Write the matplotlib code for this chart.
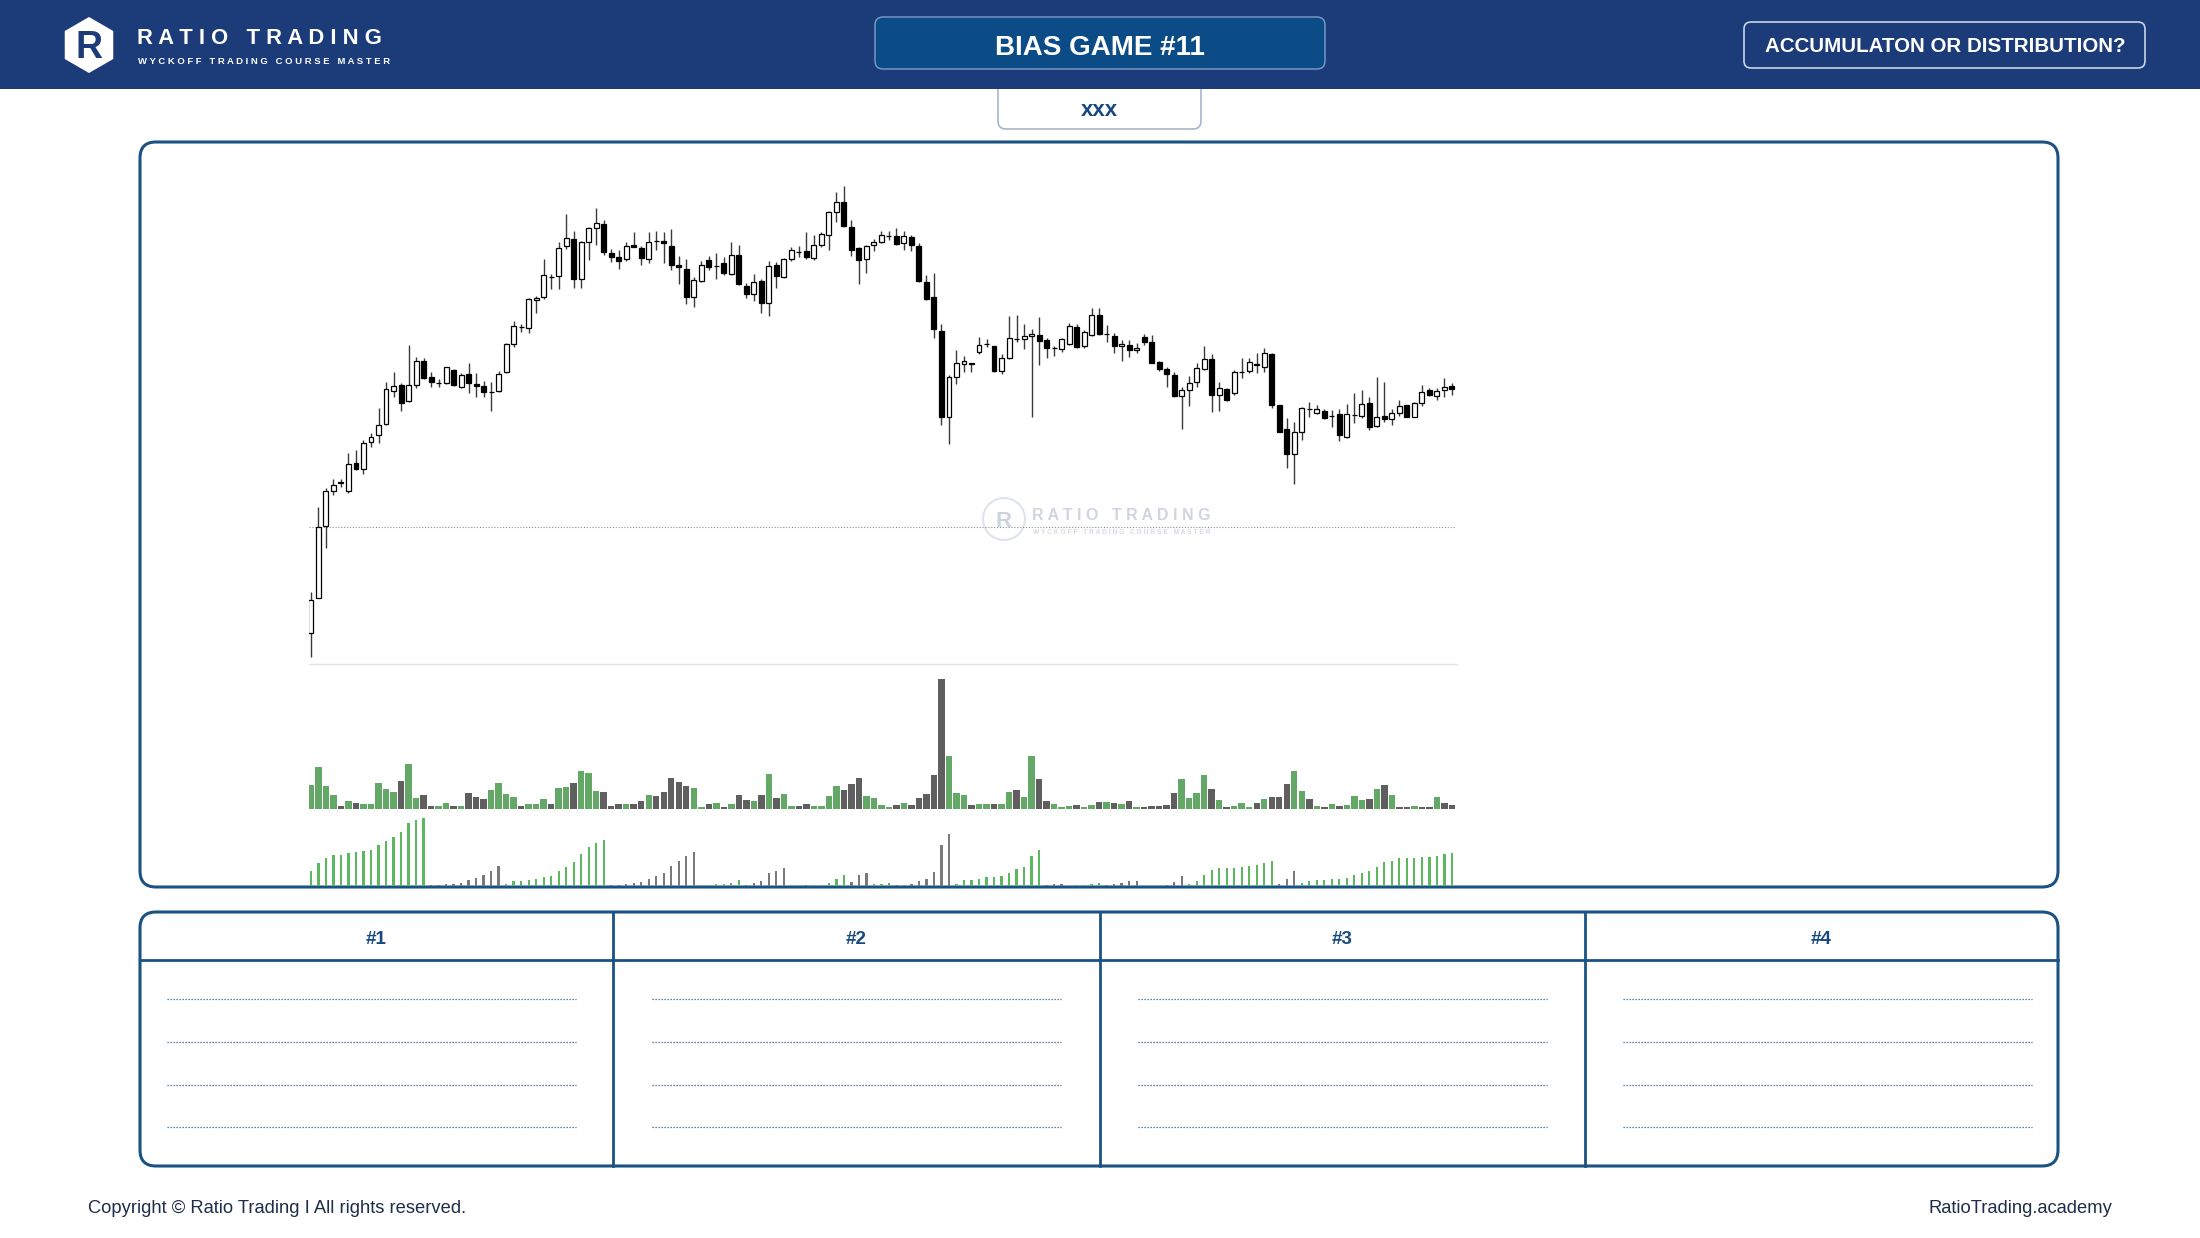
import matplotlib.pyplot as plt
from matplotlib.patches import FancyBboxPatch, RegularPolygon, Circle, Rectangle

plt.rcParams['font.family'] = ['Liberation Sans', 'DejaVu Sans']

# ---- price candles (arbitrary price units) ----
opens = [111.0, 121.5, 143.3, 153.8, 156.1, 153.8, 162.0, 160.3, 168.5, 170.5,
         173.8, 183.8, 185.4, 180.8, 185.5, 192.8, 187.8, 186.2, 186.0, 190.1,
         184.8, 188.8, 185.7, 185.3, 183.5, 183.8, 189.3, 197.8, 203.0, 202.5,
         211.0, 212.0, 218.0, 218.2, 227.2, 229.3, 217.2, 228.4, 232.5, 233.8,
         225.2, 223.8, 223.2, 227.5, 226.6, 223.2, 228.6, 228.6, 227.3, 221.4,
         220.4, 212.0, 216.8, 222.9, 221.1, 222.1, 218.9, 224.5, 215.2, 212.8,
         216.7, 210.0, 221.5, 217.8, 223.2, 225.5, 225.6, 223.5, 227.6, 230.5,
         237.5, 240.5, 233.0, 226.6, 223.2, 227.5, 228.3, 230.3, 230.3, 228.0,
         230.0, 227.2, 216.3, 212.0, 201.8, 176.0, 188.0, 191.8, 192.2, 195.3,
         197.8, 197.1, 189.8, 193.5, 199.3, 199.2, 200.3, 200.6, 199.1, 196.5,
         196.4, 197.8, 202.9, 197.3, 200.5, 206.6, 200.8, 200.2, 197.2, 197.6,
         196.0, 199.9, 198.5, 192.5, 190.3, 188.5, 182.2, 184.0, 186.3, 190.2,
         193.2, 182.5, 184.2, 183.2, 189.5, 189.6, 191.9, 191.0, 194.7, 179.4,
         172.3, 164.7, 171.5, 178.2, 177.0, 177.8, 176.2, 176.7, 170.0, 176.5,
         176.2, 180.0, 173.2, 176.2, 175.2, 177.1, 179.4, 176.0, 180.1, 184.0,
         182.3, 184.1, 185.1]
highs = [123.5, 148.8, 154.5, 157.2, 157.2, 165.0, 166.0, 169.0, 171.0, 178.7,
         186.5, 189.5, 186.0, 197.5, 194.0, 193.7, 189.3, 187.2, 191.0, 190.3,
         189.2, 192.0, 189.0, 186.8, 186.5, 189.8, 198.2, 204.8, 203.8, 211.7,
         212.2, 223.3, 218.8, 228.3, 236.8, 231.7, 228.7, 232.8, 238.5, 235.0,
         226.4, 226.0, 228.4, 231.4, 227.2, 231.4, 231.7, 231.4, 232.4, 224.2,
         223.2, 218.0, 222.7, 224.2, 225.0, 223.8, 228.4, 227.6, 216.0, 218.8,
         217.3, 222.7, 222.5, 223.7, 227.0, 227.2, 231.5, 230.4, 231.5, 237.8,
         243.3, 245.2, 235.0, 226.8, 227.5, 229.3, 231.7, 231.7, 232.7, 231.8,
         230.4, 228.2, 218.4, 219.2, 203.8, 188.5, 195.9, 194.2, 192.2, 199.9,
         199.2, 197.2, 194.7, 206.3, 206.5, 203.8, 202.4, 206.0, 199.5, 197.2,
         199.5, 204.2, 203.8, 202.0, 208.7, 208.7, 203.5, 201.0, 199.0, 199.0,
         198.2, 200.7, 200.5, 192.7, 191.0, 189.5, 184.8, 188.2, 192.1, 197.2,
         194.7, 186.5, 184.5, 190.0, 193.5, 193.5, 195.2, 196.5, 195.2, 179.5,
         175.5, 174.3, 178.8, 180.3, 179.5, 178.2, 178.0, 178.4, 179.8, 183.2,
         183.9, 182.0, 187.8, 186.5, 178.2, 181.0, 179.4, 180.3, 185.5, 184.5,
         184.5, 187.5, 186.2]
lows = [104.0, 121.5, 136.5, 152.5, 155.0, 153.0, 160.0, 158.8, 167.0, 168.0,
        173.5, 182.0, 177.8, 180.3, 184.5, 187.2, 185.0, 184.8, 185.8, 185.2,
        184.5, 183.0, 182.0, 181.8, 177.8, 183.5, 189.0, 196.8, 201.3, 201.2,
        207.0, 211.2, 214.3, 214.3, 226.4, 214.5, 214.5, 223.0, 227.5, 224.4,
        222.4, 220.3, 222.8, 226.8, 221.6, 222.0, 226.0, 222.0, 220.0, 215.8,
        209.7, 208.8, 216.5, 220.0, 217.2, 218.6, 218.6, 215.6, 211.6, 210.8,
        207.0, 206.3, 214.5, 217.6, 222.7, 224.0, 223.4, 223.0, 227.0, 226.0,
        234.5, 233.0, 224.3, 215.8, 219.0, 225.7, 228.0, 229.0, 227.4, 226.0,
        225.7, 216.5, 211.0, 199.5, 173.5, 167.8, 185.7, 189.5, 189.5, 194.8,
        197.0, 189.4, 188.7, 193.3, 198.5, 196.3, 175.8, 191.5, 193.5, 194.2,
        195.5, 197.5, 196.5, 196.7, 200.3, 200.5, 198.5, 195.0, 192.7, 193.9,
        195.2, 197.5, 192.0, 189.7, 184.8, 182.0, 172.2, 179.1, 184.8, 190.0,
        177.5, 177.8, 180.7, 182.5, 187.5, 189.0, 189.2, 189.5, 178.5, 171.3,
        160.5, 155.7, 169.0, 175.8, 176.8, 175.2, 173.0, 168.8, 169.5, 174.0,
        175.5, 172.0, 173.0, 174.5, 173.5, 176.2, 175.8, 175.8, 179.3, 182.3,
        181.0, 182.0, 182.4]
closes = [121.0, 143.0, 153.8, 155.5, 156.3, 161.7, 160.3, 168.0, 169.8, 173.4,
          184.2, 185.3, 180.2, 185.4, 192.6, 187.5, 186.5, 186.2, 190.8, 185.5,
          188.4, 186.2, 185.2, 183.5, 183.5, 188.8, 197.8, 203.2, 203.0, 211.3,
          211.5, 218.4, 218.0, 226.5, 229.6, 217.2, 228.3, 232.7, 234.0, 225.4,
          224.0, 222.8, 227.2, 227.0, 223.7, 228.4, 228.6, 228.0, 221.5, 221.0,
          212.0, 217.0, 221.5, 221.0, 221.1, 219.2, 224.5, 215.8, 212.8, 216.3,
          210.0, 221.1, 218.2, 223.2, 225.9, 225.5, 223.8, 227.6, 230.7, 237.4,
          240.3, 233.2, 226.0, 223.0, 227.3, 228.4, 230.6, 230.3, 227.7, 230.2,
          227.4, 216.8, 211.4, 202.2, 175.8, 187.8, 192.0, 192.6, 191.7, 197.5,
          197.8, 189.8, 193.5, 199.5, 199.3, 200.2, 200.8, 198.8, 196.7, 196.5,
          199.2, 203.2, 197.0, 201.3, 206.5, 200.8, 200.8, 197.2, 197.9, 196.0,
          196.7, 198.5, 192.2, 190.3, 188.8, 182.3, 183.9, 186.2, 190.5, 193.2,
          182.5, 184.5, 181.0, 189.4, 189.5, 192.4, 191.4, 195.0, 179.5, 171.5,
          164.7, 171.5, 178.5, 178.2, 178.4, 175.5, 176.2, 170.5, 176.7, 176.5,
          179.7, 172.9, 175.8, 175.2, 177.0, 179.2, 175.9, 180.0, 183.5, 182.5,
          183.8, 184.8, 184.2]
ref_level = 142.8

# ---- volume histogram ----
volume = [73, 128, 71, 43, 10, 25, 18, 15, 15, 78,
          60, 52, 86, 137, 34, 43, 10, 11, 18, 11,
          11, 49, 37, 32, 58, 79, 45, 37, 10, 16,
          16, 32, 16, 63, 67, 80, 116, 110, 55, 51,
          11, 16, 17, 15, 24, 44, 39, 53, 94, 83,
          70, 64, 8, 15, 20, 7, 15, 43, 27, 26,
          43, 107, 34, 46, 11, 11, 17, 11, 11, 41,
          69, 57, 75, 93, 40, 35, 13, 8, 12, 18,
          14, 35, 46, 103, 390, 160, 48, 43, 13, 17,
          15, 16, 17, 53, 57, 38, 160, 90, 24, 16,
          8, 10, 13, 8, 14, 22, 21, 19, 17, 25,
          8, 6, 10, 9, 13, 49, 91, 33, 50, 103,
          62, 28, 6, 10, 18, 8, 19, 32, 38, 38,
          75, 115, 54, 32, 10, 6, 16, 11, 13, 41,
          29, 31, 62, 72, 42, 8, 8, 11, 8, 7,
          37, 18, 12]
volume_dir = ("ggggdgdggg" "ggdggddggd" "gdddggggdg" "ggdggdgggd" "ddgddgdddd"
              "dggdgdgddg" "dgdggddggg" "gdddggggdg" "dddddgggdg" "gdggdggddg"
              "ggdggdgdgd" "gdddddgggg" "dgdgggdgdd" "dggdgdgdgg" "gdgdgddgdd"
              "gdd")

# ---- cumulative wave volume ----
wave_volume = [46, 70, 84, 92, 94, 99, 103, 105, 108, 124,
               135, 146, 163, 190, 197, 204, 2, 2, 5, 7,
               9, 19, 25, 32, 44, 59, 7, 14, 16, 19,
               22, 27, 31, 44, 57, 73, 97, 117, 129, 139,
               2, 2, 6, 9, 13, 22, 30, 40, 59, 75,
               90, 102, 2, 3, 6, 7, 9, 19, 4, 8,
               16, 38, 45, 54, 2, 1, 2, 2, 2, 9,
               22, 33, 13, 32, 40, 6, 7, 9, 2, 4,
               7, 14, 21, 43, 122, 155, 7, 17, 19, 22,
               26, 28, 31, 40, 52, 58, 91, 109, 2, 5,
               6, 1, 2, 3, 6, 9, 2, 6, 9, 14,
               15, 1, 1, 1, 2, 11, 30, 5, 15, 34,
               47, 53, 54, 55, 58, 60, 63, 69, 76, 6,
               21, 44, 10, 16, 17, 19, 20, 22, 24, 32,
               38, 44, 56, 71, 75, 83, 85, 85, 86, 88,
               89, 96, 99]
wave_runs = [(16, 'g'), (10, 'd'), (14, 'g'), (12, 'd'), (6, 'g'), (6, 'd'), (1, 'g'),
             (2, 'd'), (5, 'g'), (3, 'd'), (3, 'g'), (8, 'd'), (12, 'g'), (4, 'd'),
             (4, 'g'), (11, 'd'), (12, 'g'), (3, 'd'), (21, 'g')]
wave_dir = ''.join(c * n for n, c in wave_runs)

title = 'BIAS GAME #11'
subtitle = 'xxx'
question = 'ACCUMULATON OR DISTRIBUTION?'
columns = ['#1', '#2', '#3', '#4']
brand = 'RATIO TRADING'
tagline = 'WYCKOFF TRADING COURSE MASTER'

NAVY = '#1c3b79'
BLUE = '#1a5283'
TEXTBLUE = '#174a7e'
GREEN = '#63a866'
GREY = '#5f5f5f'

W, H = 2200, 1238
fig = plt.figure(figsize=(W / 100, H / 100), dpi=100)
fig.patch.set_facecolor('white')

bg = fig.add_axes([0, 0, 1, 1])
bg.set_xlim(0, W)
bg.set_ylim(H, 0)
bg.axis('off')


def panel(x0, y0, x1, y1):
    return fig.add_axes([x0 / W, 1 - y1 / H, (x1 - x0) / W, (y1 - y0) / H])


def spaced(s):
    return '   '.join(' '.join(w) for w in s.split())


# header band
bg.add_patch(FancyBboxPatch((998, 70), 203, 59, boxstyle='round,pad=0,rounding_size=8',
                            fc='white', ec='#a8b5c8', lw=1.2, zorder=1))
bg.text(1099, 116, subtitle, ha='center', va='baseline', fontsize=16,
        fontweight='bold', color=TEXTBLUE, zorder=3)
bg.add_patch(Rectangle((0, 0), W, 89, fc=NAVY, ec='none', zorder=2))

bg.add_patch(RegularPolygon((89, 45), numVertices=6, radius=28, fc='white', ec='none', zorder=3))
bg.text(89, 58, 'R', ha='center', va='baseline', fontsize=27, fontweight='bold',
        color=NAVY, zorder=4)
bg.text(137, 44, spaced(brand), ha='left', va='baseline', fontsize=15.8,
        fontweight='bold', color='white', zorder=4)
bg.text(138, 63.5, spaced(tagline), ha='left', va='baseline', fontsize=6.8,
        fontweight='bold', color='white', zorder=4)

bg.add_patch(FancyBboxPatch((875, 17), 450, 52, boxstyle='round,pad=0,rounding_size=8',
                            fc='#0b4c86', ec='#7c9ecb', lw=1, zorder=3))
bg.text(1100, 55, title, ha='center', va='baseline', fontsize=20,
        fontweight='bold', color='white', zorder=4)

bg.add_patch(FancyBboxPatch((1744, 22), 401, 46, boxstyle='round,pad=0,rounding_size=7',
                            fc=NAVY, ec='#c8d4e6', lw=1.2, zorder=3))
bg.text(1945, 52.5, question, ha='center', va='baseline', fontsize=14.8,
        fontweight='bold', color='white', zorder=4)

# chart frame
bg.add_patch(FancyBboxPatch((140, 142), 1918, 745, boxstyle='round,pad=0,rounding_size=16',
                            fc='white', ec=BLUE, lw=2.2, zorder=1))
bg.plot([309, 1457], [664, 664], color='#e4e4e4', lw=1, zorder=2)

# watermark
bg.add_patch(Circle((1004, 519), 21, fill=False, ec='#dfe3ea', lw=1.5, zorder=2))
bg.text(1004, 527, 'R', ha='center', va='baseline', fontsize=16, fontweight='bold',
        color='#cdd3de', zorder=2)
bg.text(1032, 520, spaced(brand), ha='left', va='baseline', fontsize=11.5,
        fontweight='bold', color='#d0d5df', zorder=2)
bg.text(1033, 534, spaced(tagline), ha='left', va='baseline', fontsize=4.8,
        fontweight='bold', color='#d6dae2', zorder=2)

n = len(opens)
xs = list(range(n))

# candles
ax = panel(308.7, 170, 1456.4, 664)
ax.set_xlim(-0.3, n - 0.4)
ax.set_ylim(101.8, 250)
ax.axis('off')
ax.axhline(ref_level, color='#8c8c8c', lw=0.8, ls=(0, (1, 1.6)), zorder=0)
ax.vlines(xs, lows, highs, color='#3a3a3a', lw=1, zorder=1)
body_col = ['white' if c > o else 'black' for o, c in zip(opens, closes)]
ax.bar(xs, [c - o for o, c in zip(opens, closes)], bottom=opens, width=0.66,
       color=body_col, edgecolor='black', linewidth=0.9, zorder=2)

# volume
axv = panel(308.7, 670, 1456.4, 809.3)
axv.set_xlim(-0.3, n - 0.4)
axv.set_ylim(0, 417)
axv.axis('off')
axv.bar(xs, volume, width=0.86, color=[GREEN if d == 'g' else GREY for d in volume_dir])

# wave volume
axw = panel(308.7, 816, 1456.4, 886)
axw.set_xlim(-0.3, n - 0.4)
axw.set_ylim(0, 210)
axw.axis('off')
axw.bar(xs, wave_volume, width=0.3,
        color=['#5cb85f' if d == 'g' else '#7a7a7a' for d in wave_dir])

# answer table
bg.add_patch(FancyBboxPatch((140, 912), 1918, 254, boxstyle='round,pad=0,rounding_size=16',
                            fc='white', ec=BLUE, lw=2.2, zorder=1))
bg.plot([140, 2058], [960, 960], color=BLUE, lw=2, zorder=2)
col_edges = [140, 613, 1100, 1585, 2058]
line_starts = [167, 652, 1138, 1623]
for k, name in enumerate(columns):
    left, right = col_edges[k], col_edges[k + 1]
    if k > 0:
        bg.plot([left, left], [912, 1166], color=BLUE, lw=2, zorder=2)
    bg.text((left + right) / 2, 943.5, name, ha='center', va='baseline', fontsize=13.5,
            fontweight='bold', color=TEXTBLUE, zorder=3)
    for yy in [999, 1042, 1085, 1127]:
        bg.plot([line_starts[k], line_starts[k] + 409], [yy, yy], color='#2c5b8b', lw=0.9,
                ls=(0, (1, 1.4)), zorder=2)

# footer
bg.text(88, 1213, 'Copyright \u00a9 Ratio Trading I All rights reserved.', ha='left',
        va='baseline', fontsize=13.2, color='#1f2d4a')
bg.text(2112, 1213, 'RatioTrading.academy', ha='right', va='baseline', fontsize=13.2,
        color='#1f2d4a')

fig.savefig('out.png', dpi=100, facecolor='white')
